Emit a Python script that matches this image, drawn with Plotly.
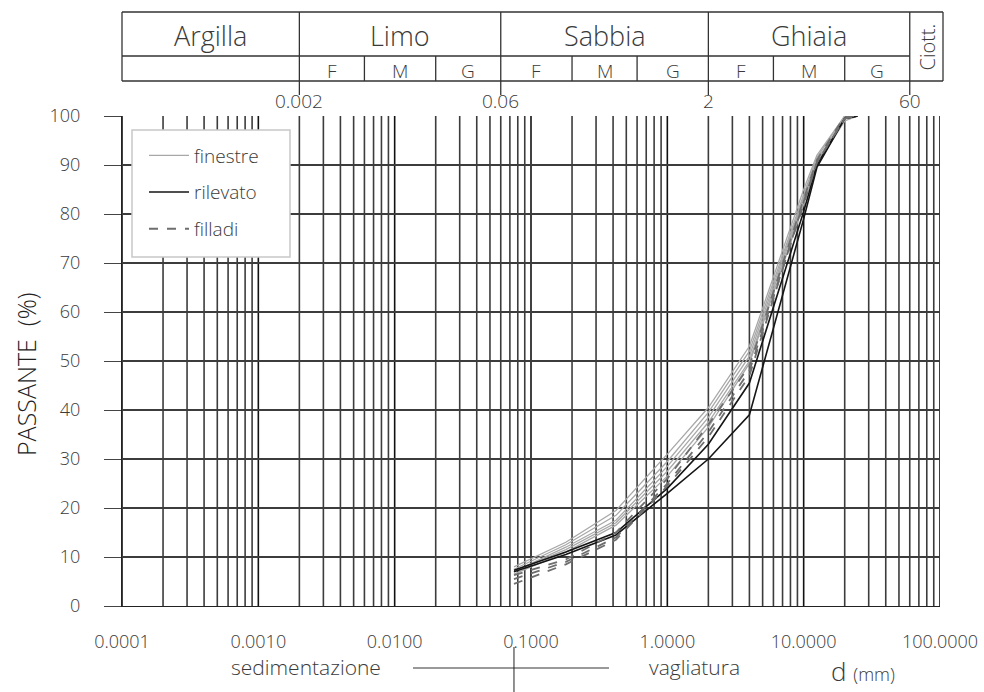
import math
import plotly.graph_objects as go

# ---------------- data ----------------
sizes = [0.075, 0.18, 0.42, 1, 2, 4, 10, 12.5, 20, 25]

finestre = [
    [8.0, 13.0, 19.5, 31.0, 40.5, 53.0, 85.0, 92.0, 100, 100],
    [7.5, 12.5, 18.5, 29.5, 39.5, 52.0, 84.0, 91.5, 100, 100],
    [7.0, 12.0, 17.5, 28.5, 38.5, 51.0, 83.5, 91.0, 99.5, 100],
    [7.0, 11.5, 17.0, 27.5, 37.5, 50.0, 83.0, 90.5, 99.5, 100],
    [6.5, 11.0, 16.5, 26.5, 36.5, 49.5, 82.0, 90.0, 99.0, 100],
]
rilevato = [
    [7.3, 11.0, 15.0, 24.0, 33.0, 45.5, 80.5, 90.0, 99.5, 100],
    [7.0, 10.5, 14.5, 23.0, 30.0, 39.0, 79.0, 89.5, 99.5, 100],
]
filladi = [
    [6.3, 9.5, 15.0, 26.0, 37.0, 49.0, 83.0, 91.0, 100, 100],
    [5.5, 9.0, 14.0, 25.0, 35.5, 48.0, 82.0, 90.5, 99.5, 100],
    [4.5, 8.5, 13.5, 24.5, 34.5, 47.0, 82.5, 90.5, 99.5, 100],
]

y_ticks = list(range(0, 101, 10))
x_tickvals = [1e-4, 1e-3, 1e-2, 1e-1, 1, 10, 100]
x_ticktext = ["0.0001", "0.0010", "0.0100", "0.1000", "1.0000", "10.0000", "100.0000"]

classes = ["Argilla", "Limo", "Sabbia", "Ghiaia"]
class_bounds = [0.0001, 0.002, 0.06, 2, 60]
bound_labels = ["0.002", "0.06", "2", "60"]
sub_bounds = [0.002, 0.006, 0.02, 0.06, 0.2, 0.6, 2, 6, 20, 60]
sub_labels = ["F", "M", "G"] * 3
sieve_split = 0.075

FONT = "Open Sans"
TXT = "#3a3a3a"

fig = go.Figure()

styles = {
    "finestre": dict(color="#a8a8a8", width=1.3),
    "rilevato": dict(color="#151515", width=1.6),
    "filladi": dict(color="#6e6e6e", width=1.8, dash="dash"),
}
for name, group in [("finestre", finestre), ("rilevato", rilevato), ("filladi", filladi)]:
    for i, vals in enumerate(group):
        fig.add_trace(go.Scatter(
            x=sizes, y=vals, mode="lines", name=name,
            legendgroup=name, showlegend=(i == 0),
            line=styles[name], hoverinfo="skip",
        ))

shapes = []
# vertical grid (log grid 1..9 per decade)
for k in range(-4, 2):
    for m in range(1, 10):
        v = m * 10 ** k
        shapes.append(dict(type="line", xref="x", yref="paper", x0=v, x1=v, y0=0, y1=1,
                           line=dict(color="#111111" if m == 1 else "#3c3c3c", width=1.6),
                           layer="below"))
shapes.append(dict(type="line", xref="x", yref="paper", x0=100, x1=100, y0=0, y1=1,
                   line=dict(color="#111111", width=1.6), layer="below"))

# header table
PY = lambda py: (606 - py) / 490.0
PX = lambda px: (px - 122) / 818.0
top, mid, bot, ext = PY(12), PY(56), PY(81), PY(95)
right = PX(943)
hl = dict(color="#333333", width=1.3)
shapes.append(dict(type="line", xref="paper", yref="paper", x0=0, x1=right, y0=top, y1=top, line=hl))
shapes.append(dict(type="line", xref="paper", yref="paper", x0=0, x1=right, y0=bot, y1=bot, line=hl))
shapes.append(dict(type="line", xref="x", yref="paper", x0=class_bounds[0], x1=class_bounds[-1], y0=mid, y1=mid, line=hl))
shapes.append(dict(type="line", xref="paper", yref="paper", x0=0, x1=0, y0=bot, y1=top, line=hl))
shapes.append(dict(type="line", xref="paper", yref="paper", x0=right, x1=right, y0=bot, y1=top, line=hl))
for b in class_bounds[1:]:
    shapes.append(dict(type="line", xref="x", yref="paper", x0=b, x1=b, y0=ext, y1=top, line=hl))
for b in sub_bounds:
    if b not in class_bounds:
        shapes.append(dict(type="line", xref="x", yref="paper", x0=b, x1=b, y0=bot, y1=mid, line=hl))

# legend box
shapes.append(dict(type="rect", xref="paper", yref="paper", x0=PX(132), x1=PX(290), y0=PY(257), y1=PY(130),
                   fillcolor="white", line=dict(color="#c8c8c8", width=1.5), layer="above"))

# bottom sedimentazione / vagliatura marks
shapes.append(dict(type="line", xref="paper", yref="paper", x0=PX(413), x1=PX(609), y0=PY(668), y1=PY(668),
                   line=dict(color="#777777", width=1.5)))
shapes.append(dict(type="line", xref="x", yref="paper", x0=sieve_split, x1=sieve_split, y0=PY(647), y1=PY(692),
                   line=dict(color="#222222", width=1)))

def ann(text, xref, x, y, size, angle=0, color=TXT):
    return dict(text=text, xref=xref, yref="paper", x=x, y=y, showarrow=False,
                xanchor="center", yanchor="middle", textangle=angle,
                font=dict(family=FONT, size=size, color=color, weight=300))

annotations = []
for i, c in enumerate(classes):
    cx = (math.log10(class_bounds[i]) + math.log10(class_bounds[i + 1])) / 2
    annotations.append(ann(c, "x", cx, PY(35), 27))
for i, s in enumerate(sub_labels):
    cx = (math.log10(sub_bounds[i]) + math.log10(sub_bounds[i + 1])) / 2
    annotations.append(ann(s, "x", cx, PY(71), 19))
for b, lab in zip(class_bounds[1:], bound_labels):
    annotations.append(ann(lab, "x", math.log10(b), PY(101), 19))
annotations.append(ann("Ciott.", "paper", PX(926.5), PY(47), 20, -90))
annotations.append(ann("PASSANTE  (%)", "paper", PX(26), PY(374), 25, -90, "#222222"))
annotations.append(ann("sedimentazione", "paper", PX(306), PY(667), 21))
annotations.append(ann("vagliatura", "paper", PX(694), PY(667), 21))
annotations.append(ann("d <span style='font-size:18px'>(mm)</span>", "paper", PX(863), PY(671), 26))

fig.update_layout(
    width=984, height=692,
    margin=dict(l=122, r=44, t=116, b=86, autoexpand=False),
    paper_bgcolor="white", plot_bgcolor="white",
    shapes=shapes, annotations=annotations,
    font=dict(family=FONT, color=TXT),
    legend=dict(x=PX(144), y=PY(130), xanchor="left", yanchor="top",
                bgcolor="rgba(0,0,0,0)", borderwidth=0, itemwidth=40,
                title=dict(text="&nbsp;", font=dict(size=5)),
                font=dict(family=FONT, size=19, color=TXT, weight=300), tracegroupgap=9),
    xaxis=dict(type="log", range=[-4, 2], tickvals=x_tickvals, ticktext=x_ticktext, automargin=False,
               showgrid=False, zeroline=False, showline=True, linecolor="#222222", linewidth=1.3,
               ticks="", tickfont=dict(family=FONT, size=18, color=TXT, weight=300), ticklabelstandoff=19),
    yaxis=dict(range=[0, 100], tickvals=y_ticks, showgrid=True, gridcolor="#3c3c3c", gridwidth=1.6,
               automargin=False,
               zeroline=False, showline=True, linecolor="#222222", linewidth=1.3,
               ticks="outside", ticklen=17, tickcolor="#444444", tickwidth=1.3,
               tickfont=dict(family=FONT, size=18, color=TXT, weight=300), ticklabelstandoff=20),
)

fig.write_html("out.html")
